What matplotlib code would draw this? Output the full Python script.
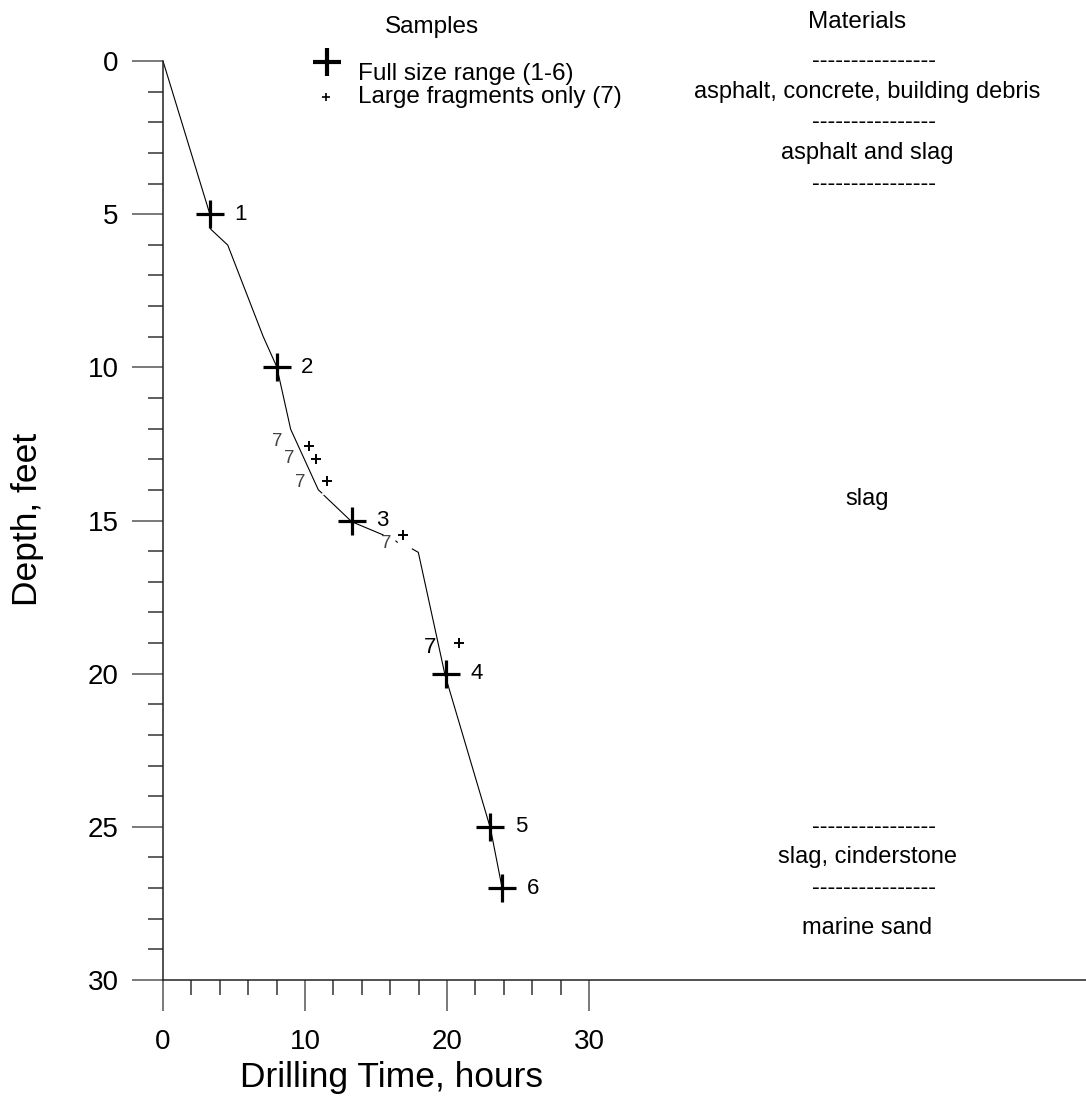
import numpy as np
import matplotlib
matplotlib.use('Agg')
import matplotlib.pyplot as plt
from matplotlib.ticker import FixedLocator

plt.rcParams['font.family'] = ['Liberation Sans', 'DejaVu Sans']

# drilling trace: hours vs depth (ft), nan marks the breaks in the trace
drill_hours = [0.0, 3.3, 3.36, 4.56, 7.06, 8.01, 8.99, 10.94, 11.18, np.nan,
               11.34, 13.29, 15.5, np.nan, 16.4, 16.5, np.nan,
               17.56, 17.98, 19.86, 23.06, 23.9]
drill_depth = [0.0, 5.0, 5.49, 6.01, 9.0, 9.98, 12.02, 14.0, 14.1, np.nan,
               14.18, 15.04, 15.47, np.nan, 15.67, 15.71, np.nan,
               15.93, 16.04, 20.04, 25.05, 27.04]

# full size range samples (1-6)
sample_ids = ['1', '2', '3', '4', '5', '6']
sample_hours = [3.28, 8.0, 13.29, 19.93, 23.06, 23.9]
sample_depth = [5.0, 10.0, 15.0, 20.0, 25.0, 27.0]

# large fragments only (7)
frag_hours = [10.3, 10.75, 11.52, 16.88, 20.85]
frag_depth = [12.57, 12.99, 13.70, 15.47, 19.0]

# materials log
boundary_depth = [0, 2, 4, 25, 27]
material_names = ['asphalt, concrete, building debris', 'asphalt and slag',
                  'slag', 'slag, cinderstone', 'marine sand']
material_depth = [1.0, 3.0, 14.3, 26.0, 28.3]

x_major = [0, 10, 20, 30]
x_minor = [2, 4, 6, 8, 12, 14, 16, 18, 22, 24, 26, 28]

fig = plt.figure(figsize=(10.86, 11.09), dpi=100)
ax = fig.add_axes([163 / 1086, 129 / 1109, 923 / 1086, 919 / 1109])
ax.set_xlim(0, 65)
ax.set_ylim(30, 0)

for s in ['top', 'right']:
    ax.spines[s].set_visible(False)
for s in ['left', 'bottom']:
    ax.spines[s].set_linewidth(1.1)
    ax.spines[s].set_color('#222222')

ax.xaxis.set_major_locator(FixedLocator(x_major))
ax.xaxis.set_minor_locator(FixedLocator(x_minor))
ax.yaxis.set_major_locator(FixedLocator(range(0, 31, 5)))
ax.yaxis.set_minor_locator(FixedLocator([d for d in range(31) if d % 5]))
ax.tick_params(axis='x', which='major', length=22, width=1.1, color='#555555',
               direction='out', pad=13, labelsize=20)
ax.tick_params(axis='x', which='minor', length=10.5, width=1.1, color='#333333',
               direction='out')
ax.tick_params(axis='y', which='major', length=22, width=1.1, color='#555555',
               direction='out', pad=10, labelsize=20)
ax.tick_params(axis='y', which='minor', length=11, width=1.1, color='#333333',
               direction='out')

# drilling curve
ax.plot(drill_hours, drill_depth, color='black', lw=0.8)

# samples
ax.plot(sample_hours, sample_depth, ls='none', marker='+', ms=20, mew=2.3,
        color='black', zorder=3)
for sid, h, d in zip(sample_ids, sample_hours, sample_depth):
    ax.annotate(sid, (h, d), xytext=(22, 0), textcoords='offset points',
                ha='center', va='center', fontsize=16)

ax.plot(frag_hours, frag_depth, ls='none', marker='+', ms=7, mew=1.4,
        color='black', zorder=3)
frag_offsets = [(-23, 3), (-19, 0), (-19, -1.5), (-12, -6.5), (-21, -3.5)]
for i, (h, d) in enumerate(zip(frag_hours, frag_depth)):
    last = i == len(frag_hours) - 1
    ax.annotate('7', (h, d), xytext=frag_offsets[i], textcoords='offset points',
                ha='center', va='center', fontsize=16 if last else 13.5,
                color='black' if last else '#444444')

# legend block
ax.text(15.6, -1.1, 'Samples', fontsize=17.5, ha='left', va='center', clip_on=False)
ax.plot([11.55], [0.03], marker='+', ms=20, mew=3, color='black', clip_on=False)
ax.plot([11.5], [1.16], marker='+', ms=6, mew=1.2, color='black', clip_on=False)
ax.text(13.7, 0.42, 'Full size range (1-6)', fontsize=17.5, ha='left', va='center')
ax.text(13.7, 1.17, 'Large fragments only (7)', fontsize=17.5, ha='left', va='center')

# materials column
mat_x = 49.6
ax.text(48.9, -1.26, 'Materials', fontsize=17.5, ha='center', va='center', clip_on=False)
for d in boundary_depth:
    ax.text(mat_x + 0.5, d, '----------------', fontsize=17, ha='center', va='center')
for name, d in zip(material_names, material_depth):
    ax.text(mat_x, d, name, fontsize=17, ha='center', va='center')

fig.text(392 / 1086, 22 / 1109, 'Drilling Time, hours', fontsize=25.5,
         ha='center', va='baseline')
fig.text(27 / 1086, 1 - 519 / 1109, 'Depth, feet', fontsize=25.5, rotation=90,
         ha='center', va='center')

fig.savefig('out.png', dpi=100)
